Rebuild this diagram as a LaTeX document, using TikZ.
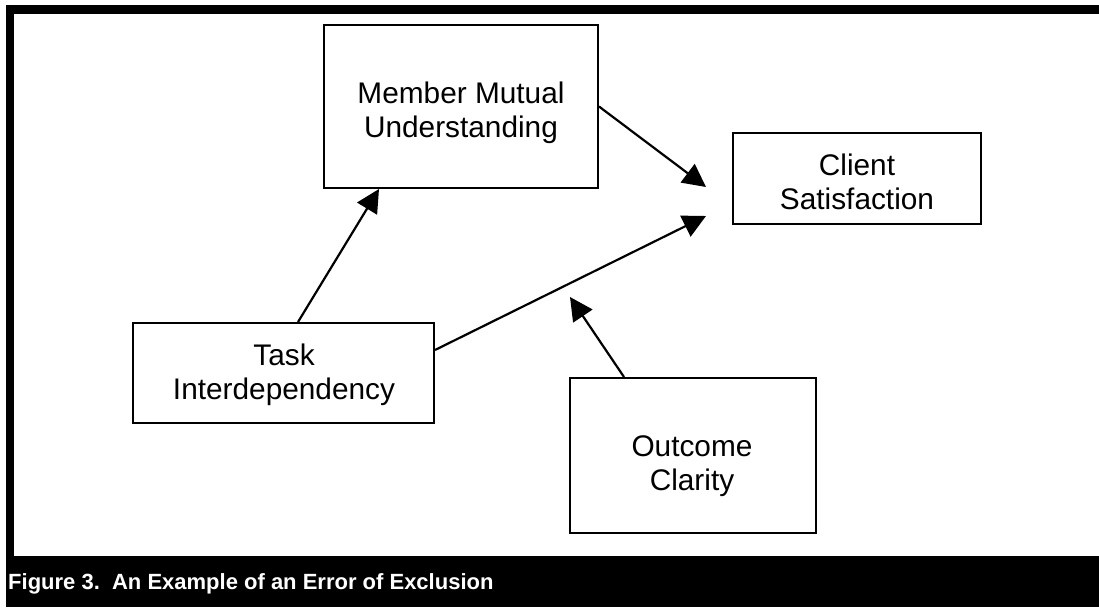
\documentclass[tikz,border=0pt]{standalone}
\usepackage{fontspec}
\setmainfont{Liberation Sans}
\usetikzlibrary{arrows.meta}
\begin{document}
\begin{tikzpicture}[x=1pt,y=-1pt,
  box/.style={draw=black, line width=2pt, rectangle, inner sep=0pt},
  lbl/.style={anchor=base, inner sep=0pt, font=\fontsize{29.8}{34.6}\selectfont},
  conn/.style={line width=2.2pt, -{Triangle[length=23pt,width=23pt]}},
  caption/.style={anchor=base west, inner sep=0pt, text=white, font=\fontsize{22}{26}\selectfont\bfseries}]
\useasboundingbox (0,0) rectangle (1099,607);
\fill[white] (0,0) rectangle (1099,607);
% frame
\fill[black] (6,5) rectangle (1099,14);
\fill[black] (6,5) rectangle (14,556);
\fill[black] (6,556) rectangle (1099,607);
% boxes
\node[box, minimum width=274pt, minimum height=163pt] (mmu) at (461,106.5) {};
\node[box, minimum width=248pt, minimum height=91pt] (cs) at (857,178.5) {};
\node[box, minimum width=301pt, minimum height=100pt] (ti) at (283.5,373) {};
\node[box, minimum width=246pt, minimum height=155pt] (oc) at (693,455.5) {};
% texts
\node[lbl] (mmut) at (461,103) {\begin{tabular}[t]{@{}c@{}}Member Mutual\\Understanding\end{tabular}};
\node[lbl] (cst) at (857,175) {\begin{tabular}[t]{@{}c@{}}Client\\Satisfaction\end{tabular}};
\node[lbl] (tit) at (284,365) {\begin{tabular}[t]{@{}c@{}}Task\\Interdependency\end{tabular}};
\node[lbl] (oct) at (692,456) {\begin{tabular}[t]{@{}c@{}}Outcome\\Clarity\end{tabular}};
% free arrow ends
\coordinate (t1) at (706,187);
\coordinate (t2) at (706,216);
\coordinate (t3) at (570,297);
% connectors
\draw[conn] (mmu.east) -- (t1);
\draw[conn] ([yshift=23pt]ti.east) -- (t2);
\draw[conn] ([xshift=14.5pt]ti.north) -- ([xshift=-82pt]mmu.south);
\draw[conn] ([xshift=-69pt]oc.north) -- (t3);
% caption
\node[caption] (cap) at (8,589) {Figure 3.\ \ An Example of an Error of Exclusion};
\end{tikzpicture}
\end{document}
